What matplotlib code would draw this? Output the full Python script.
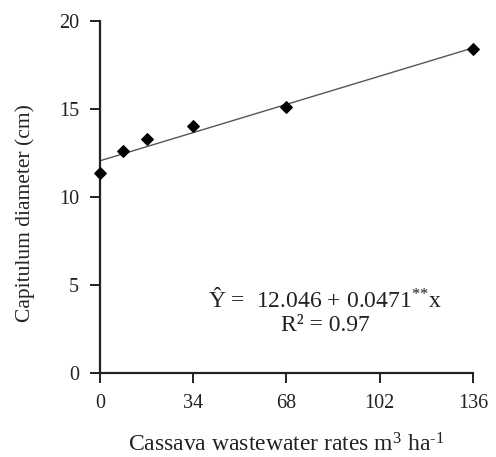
import matplotlib
matplotlib.use("Agg")
import matplotlib.pyplot as plt
import numpy as np

plt.rcParams['font.family'] = ['Liberation Serif', 'DejaVu Serif']
plt.rcParams['mathtext.fontset'] = 'custom'
plt.rcParams['mathtext.rm'] = 'Liberation Serif'
plt.rcParams['mathtext.it'] = 'Liberation Serif:italic'

rates = [0, 8.5, 17, 34, 68, 136]
diameter = [11.35, 12.6, 13.3, 14.0, 15.1, 18.4]
intercept = 12.046
slope = 0.0471
xticks = [0, 34, 68, 102, 136]
yticks = [0, 5, 10, 15, 20]

fig = plt.figure(figsize=(4.96, 4.57), dpi=100)
ax = fig.add_axes([0.2016, 0.1838, 0.752, 0.771])

xf = np.array([0, 136])
ax.plot(xf, intercept + slope * xf, color='#555555', lw=1.0, zorder=2)
ax.scatter(rates, diameter, marker='D', s=34, color='black', zorder=3, clip_on=False)

ax.set_xlim(0, 136)
ax.set_ylim(0, 20)
ax.set_xticks(xticks)
ax.set_yticks(yticks)
for s in ['top', 'right']:
    ax.spines[s].set_visible(False)
for s in ['left', 'bottom']:
    ax.spines[s].set_color('#222222')
    ax.spines[s].set_linewidth(1.6)
ax.tick_params(direction='out', length=7, width=1.4, color='#222222',
               labelsize=14.5, labelcolor='#222222', pad=8)

ax.set_xlabel('Cassava wastewater rates m$^{3}$ ha$^{\\text{-1}}$', fontsize=17, color='#222222')
ax.xaxis.set_label_coords(0.5, -0.172)
ax.set_ylabel('Capitulum diameter (cm)', fontsize=15.5, color='#222222')
ax.yaxis.set_label_coords(-0.175, 0.455)

ax.text(0.603, 0.207, 'Ŷ =  12.046 + 0.0471$^{{*}{*}}$x', transform=ax.transAxes,
        ha='center', va='center', fontsize=17, color='#222222')
ax.text(0.603, 0.134, 'R² = 0.97', transform=ax.transAxes,
        ha='center', va='center', fontsize=17, color='#222222')

fig.savefig('out.png', dpi=100)
